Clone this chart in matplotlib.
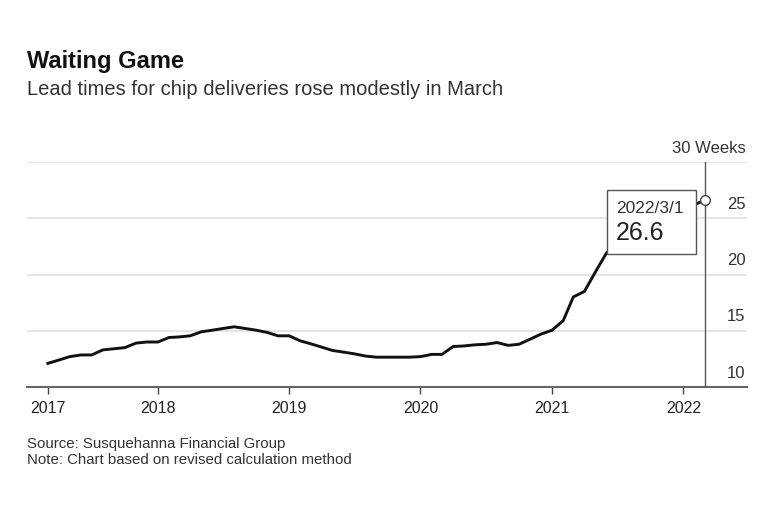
import matplotlib
matplotlib.use('Agg')
import matplotlib.pyplot as plt
import matplotlib.dates as mdates
from matplotlib.patches import Rectangle
from matplotlib.transforms import ScaledTranslation
import pandas as pd

plt.rcParams['font.family'] = ['Liberation Sans', 'DejaVu Sans']

# monthly lead times (weeks), Mar 2017 - Mar 2022
months = pd.date_range('2017-03-01', '2022-03-01', freq='MS')
lead_weeks = [
    12.1, 12.4, 12.7, 12.85, 12.85, 13.3, 13.4, 13.5, 13.9, 14.0,       # 2017
    14.0, 14.4, 14.45, 14.55, 14.9, 15.05, 15.2, 15.35, 15.2, 15.05, 14.85, 14.55,  # 2018
    14.55, 14.1, 13.85, 13.55, 13.25, 13.1, 12.95, 12.75, 12.65, 12.65, 12.65, 12.65,  # 2019
    12.7, 12.9, 12.9, 13.6, 13.65, 13.75, 13.8, 13.95, 13.7, 13.8, 14.25, 14.7,  # 2020
    15.05, 15.9, 18.0, 18.5, 20.2, 21.9, 23.0, 23.8, 24.5, 25.0, 25.4, 25.8,  # 2021
    25.9, 26.2, 26.6,  # 2022
]
y_ticks = [10, 15, 20, 25, 30]
y_labels = ['10', '15', '20', '25', '30 Weeks']
x_ticks = pd.to_datetime(['2017-03-01', '2018-01-01', '2019-01-01', '2020-01-01',
                          '2021-01-01', '2022-01-01'])
x_labels = ['2017', '2018', '2019', '2020', '2021', '2022']
hl_date = pd.Timestamp('2022-03-01')
hl_value = 26.6

fig = plt.figure(figsize=(7.59, 5.29), dpi=100)
fig.patch.set_facecolor('white')
ax = fig.add_axes([27/759, 1 - 387/529, 720/759, 225/529])

fig.text(27/759, 1 - 68/529, 'Waiting Game', fontsize=17, fontweight='bold',
         color='#111111', va='baseline', ha='left')
fig.text(27/759, 1 - 95/529, 'Lead times for chip deliveries rose modestly in March',
         fontsize=14.5, color='#333333', va='baseline', ha='left')

# grid
for v in y_ticks[1:]:
    ax.axhline(v, color='#dcdcdc', lw=1.1, zorder=1)

ax.plot(months, lead_weeks, color='#111111', lw=2.1, zorder=3, solid_joinstyle='round')

ax.axvline(hl_date, color='#555555', lw=1.0, zorder=4)

# tooltip box
bx0 = mdates.date2num(pd.Timestamp('2021-06-04'))
bx1 = mdates.date2num(pd.Timestamp('2022-02-05'))
ax.add_patch(Rectangle((bx0, 21.8), bx1 - bx0, 5.7, facecolor='white',
                       edgecolor='#555555', lw=1.0, zorder=5))
ax.text(bx0 + 24, 25.44, '2022/3/1', fontsize=12.5, color='#333333', va='baseline',
        ha='left', zorder=6)
ax.text(bx0 + 24, 23.07, '26.6', fontsize=18, color='#222222', va='baseline',
        ha='left', zorder=6)

ax.plot([hl_date], [hl_value], marker='o', ms=7, mfc='white', mec='#444444',
        mew=1.0, zorder=7, clip_on=False)

ax.set_xlim(pd.Timestamp('2017-01-02'), pd.Timestamp('2022-06-27'))
ax.set_ylim(10, 30)

for s in ['top', 'left', 'right']:
    ax.spines[s].set_visible(False)
ax.spines['bottom'].set_color('#666666')
ax.spines['bottom'].set_linewidth(1.5)

ax.set_xticks(x_ticks)
ax.set_xticklabels(x_labels)
ax.tick_params(axis='x', length=5, width=1.0, color='#444444', labelsize=11.5,
               labelcolor='#222222', pad=5)

ax.yaxis.tick_right()
ax.set_yticks(y_ticks)
ax.set_yticklabels(y_labels)
ax.tick_params(axis='y', length=0, labelsize=12, labelcolor='#333333', pad=-1)
offset = ScaledTranslation(0, 11/72, fig.dpi_scale_trans)
for lab in ax.get_yticklabels():
    lab.set_horizontalalignment('right')
    lab.set_transform(lab.get_transform() + offset)

fig.text(27/759, 1 - 448/529, 'Source: Susquehanna Financial Group',
         fontsize=10.8, color='#333333', va='baseline', ha='left')
fig.text(27/759, 1 - 464/529, 'Note: Chart based on revised calculation method',
         fontsize=10.8, color='#333333', va='baseline', ha='left')

fig.savefig('out.png', dpi=100, facecolor='white')
